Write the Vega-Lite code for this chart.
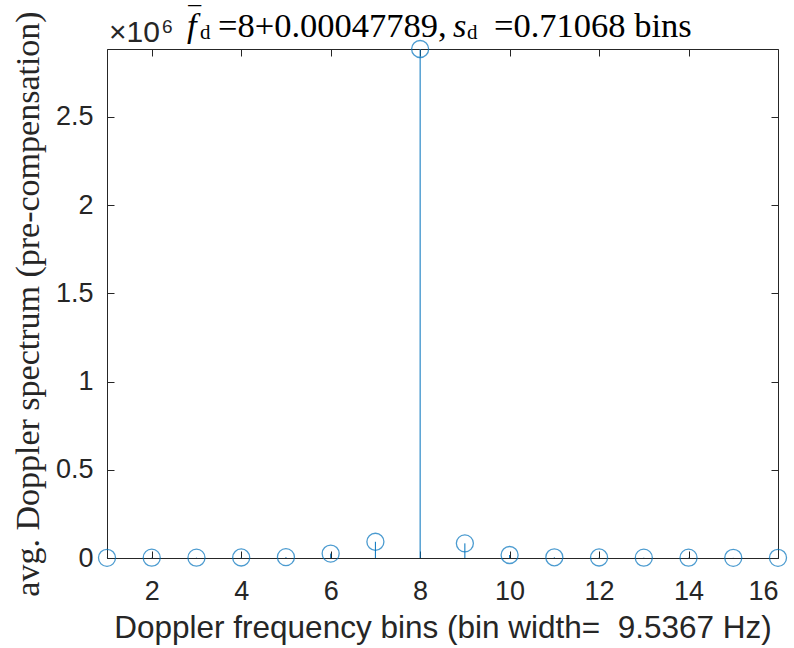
{
  "$schema": "https://vega.github.io/schema/vega-lite/v6.json",
  "width": 671,
  "height": 509,
  "autosize": {"type": "none"},
  "padding": {"left": 107, "top": 49, "right": 16, "bottom": 90},
  "background": "white",
  "config": {
    "view": {"stroke": "#262626", "strokeWidth": 1},
    "axis": {"grid": false, "domainColor": "#262626", "tickColor": "#262626", "labelColor": "#262626", "titleColor": "#262626", "labelFont": "Liberation Sans", "titleFont": "Liberation Sans", "labelFontSize": 27, "titleFontWeight": "normal"},
    "axisLeft": {"titleFont": "Liberation Serif", "titleFontSize": 34, "labelFontSize": 27},
    "axisBottom": {"titleFont": "Liberation Sans", "titleFontSize": 31.5, "labelFontSize": 27}
  },
  "resolve": {"axis": {"x": "independent", "y": "independent"}},
  "layer": [
    {
      "data": {"name": "spectrum", "values": [
        {"bin": 1, "value": 1000},
        {"bin": 2, "value": 2000},
        {"bin": 3, "value": 2000},
        {"bin": 4, "value": 3000},
        {"bin": 5, "value": 5000},
        {"bin": 6, "value": 25000},
        {"bin": 7, "value": 92000},
        {"bin": 8, "value": 2885000},
        {"bin": 9, "value": 83000},
        {"bin": 10, "value": 17000},
        {"bin": 11, "value": 4000},
        {"bin": 12, "value": 3000},
        {"bin": 13, "value": 2000},
        {"bin": 14, "value": 2000},
        {"bin": 15, "value": 1000},
        {"bin": 16, "value": 1000}
      ]},
      "layer": [
        {
          "mark": {"type": "rule", "color": "#0072BD", "strokeWidth": 1},
          "encoding": {
            "x": {"field": "bin", "type": "quantitative", "scale": {"domain": [1, 16], "nice": false, "zero": false},
              "axis": {"orient": "bottom", "values": [2, 4, 6, 8, 10, 12, 14, 16], "tickSize": -7, "labelPadding": 27, "title": "Doppler frequency bins (bin width= \u00a09.5367 Hz)", "titleFont": "Liberation Sans", "titleFontSize": 31.5, "titlePadding": 8}},
            "y": {"field": "value", "type": "quantitative", "scale": {"domain": [0, 2885000], "nice": false},
              "axis": {"orient": "left", "values": [0, 500000, 1000000, 1500000, 2000000, 2500000], "labelExpr": "datum.value/1000000", "tickSize": -7, "labelPadding": 21, "title": "avg. Doppler spectrum (pre-compensation)", "titleFont": "Liberation Serif", "titleFontSize": 34, "titlePadding": 10}},
            "y2": {"datum": 0}
          }
        },
        {
          "mark": {"type": "point", "shape": "circle", "filled": false, "color": "#0072BD", "size": 290, "strokeWidth": 1.3},
          "encoding": {
            "x": {"field": "bin", "type": "quantitative",
              "axis": {"orient": "top", "values": [2, 4, 6, 8, 10, 12, 14, 16], "tickSize": -7, "labels": false, "domain": false, "title": null}},
            "y": {"field": "value", "type": "quantitative",
              "axis": {"orient": "right", "values": [0, 500000, 1000000, 1500000, 2000000, 2500000], "tickSize": -7, "labels": false, "domain": false, "title": null}}
          }
        }
      ]
    },
    {
      "data": {"values": [{"part": "title"}]},
      "layer": [
        {"mark": {"type": "text", "text": "×10", "font": "Liberation Sans", "fontSize": 30, "align": "left", "baseline": "alphabetic", "dx": 2, "dy": -7, "color": "#262626"},
          "encoding": {"x": {"datum": 1, "type": "quantitative", "axis": null}, "y": {"datum": 2885000, "type": "quantitative", "axis": null}}},
        {"mark": {"type": "text", "text": "6", "font": "Liberation Sans", "fontSize": 19, "align": "left", "baseline": "alphabetic", "dx": 55, "dy": -16, "color": "#262626"},
          "encoding": {"x": {"datum": 1, "type": "quantitative", "axis": null}, "y": {"datum": 2885000, "type": "quantitative", "axis": null}}},
        {"mark": {"type": "text", "text": "f", "font": "Liberation Serif", "fontStyle": "italic", "fontSize": 34.5, "align": "left", "baseline": "alphabetic", "dx": 80, "dy": -12, "color": "#000000"},
          "encoding": {"x": {"datum": 1, "type": "quantitative", "axis": null}, "y": {"datum": 2885000, "type": "quantitative", "axis": null}}},
        {"mark": {"type": "text", "text": "‾", "font": "Liberation Serif", "fontSize": 34, "align": "left", "baseline": "alphabetic", "dx": 82, "dy": -17, "color": "#000000"},
          "encoding": {"x": {"datum": 1, "type": "quantitative", "axis": null}, "y": {"datum": 2885000, "type": "quantitative", "axis": null}}},
        {"mark": {"type": "text", "text": "d", "font": "Liberation Serif", "fontSize": 21, "align": "left", "baseline": "alphabetic", "dx": 93, "dy": -10, "color": "#000000"},
          "encoding": {"x": {"datum": 1, "type": "quantitative", "axis": null}, "y": {"datum": 2885000, "type": "quantitative", "axis": null}}},
        {"mark": {"type": "text", "text": "=8+0.00047789,", "font": "Liberation Serif", "fontSize": 34.5, "align": "left", "baseline": "alphabetic", "dx": 111, "dy": -12, "color": "#000000"},
          "encoding": {"x": {"datum": 1, "type": "quantitative", "axis": null}, "y": {"datum": 2885000, "type": "quantitative", "axis": null}}},
        {"mark": {"type": "text", "text": "s", "font": "Liberation Serif", "fontStyle": "italic", "fontSize": 34.5, "align": "left", "baseline": "alphabetic", "dx": 346, "dy": -12, "color": "#000000"},
          "encoding": {"x": {"datum": 1, "type": "quantitative", "axis": null}, "y": {"datum": 2885000, "type": "quantitative", "axis": null}}},
        {"mark": {"type": "text", "text": "d", "font": "Liberation Serif", "fontSize": 21, "align": "left", "baseline": "alphabetic", "dx": 360, "dy": -10, "color": "#000000"},
          "encoding": {"x": {"datum": 1, "type": "quantitative", "axis": null}, "y": {"datum": 2885000, "type": "quantitative", "axis": null}}},
        {"mark": {"type": "text", "text": "=0.71068 bins", "font": "Liberation Serif", "fontSize": 34.5, "align": "left", "baseline": "alphabetic", "dx": 387, "dy": -12, "color": "#000000"},
          "encoding": {"x": {"datum": 1, "type": "quantitative", "axis": null}, "y": {"datum": 2885000, "type": "quantitative", "axis": null}}}
      ]
    }
  ]
}
